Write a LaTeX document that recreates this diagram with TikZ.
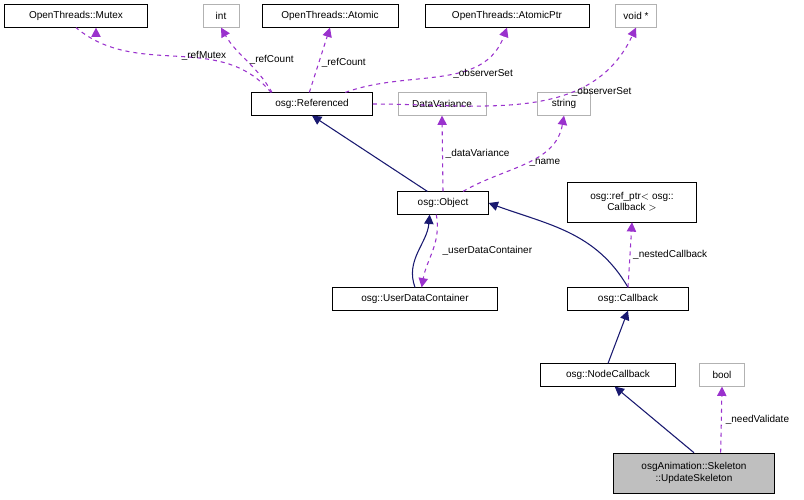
\documentclass[tikz,border=0pt]{standalone}
\usepackage{fontspec}
\setmainfont{Liberation Sans}
\usetikzlibrary{arrows.meta}
\definecolor{edgeblue}{HTML}{191970}
\definecolor{edgepurple}{HTML}{9A32CD}
\tikzset{
    cls/.style={draw=black, fill=white, inner sep=2pt, minimum height=17pt, font=\fontsize{7.5}{8.5}\selectfont, align=center},
    ext/.style={cls, draw=black!30},
    here/.style={cls, fill=black!25},
    inherit/.style={draw=edgeblue, thick, -{Triangle[length=7pt,width=7pt]}},
    uses/.style={draw=edgepurple, thick, dashed, -{Triangle[length=7pt,width=7pt]}},
    lbl/.style={font=\fontsize{7.5}{8.5}\selectfont, inner sep=1pt}
}
\begin{document}
\begin{tikzpicture}[x=0.75pt, y=-0.75pt]
    \useasboundingbox (0,0) rectangle (804,500);

    \node[cls, minimum width=107pt] (mutex) at (76,16) {OpenThreads::Mutex};
    \node[ext, minimum width=27pt] (int) at (221,16) {int};
    \node[cls, minimum width=102pt] (atomic) at (330,16) {OpenThreads::Atomic};
    \node[cls, minimum width=123pt] (atomicptr) at (507,16) {OpenThreads::AtomicPtr};
    \node[ext, minimum width=31pt] (voidp) at (636,16) {void *};

    \node[cls, minimum width=91pt] (referenced) at (312,104) {osg::Referenced};
    \node[ext, minimum width=66pt] (datavar) at (442,104) {DataVariance};
    \node[ext, minimum width=40pt] (string) at (564,104) {string};

    \node[cls, minimum width=68pt] (object) at (443,203) {osg::Object};
    \node[cls, minimum width=97pt, minimum height=30pt] (refptr) at (632,202) {osg::ref\_ptr$<$ osg::\\Callback $>$};

    \node[cls, minimum width=124pt] (udc) at (415,299) {osg::UserDataContainer};
    \node[cls, minimum width=91pt] (callback) at (628,299) {osg::Callback};

    \node[cls, minimum width=101pt] (nodecb) at (608,375) {osg::NodeCallback};
    \node[ext, minimum width=34pt] (bool) at (722,375) {bool};

    \node[here, minimum width=121pt, minimum height=30pt] (skeleton) at (694,473) {osgAnimation::Skeleton\\::UpdateSkeleton};

    % members of osg::Referenced
    \draw[uses] (referenced.north west) ++(20,0) to[out=130,in=-40] node[lbl, pos=0.5, right=2pt] {\_refMutex} (mutex.south) ++(20,0);
    \draw[uses] ([xshift=-30]referenced.north) to[out=120,in=-60] node[lbl, pos=0.5, right=1pt] {\_refCount} (int.south);
    \draw[uses] ([xshift=-2]referenced.north) -- node[lbl, pos=0.45, right=1pt] {\_refCount} (atomic.south);
    \draw[uses] ([xshift=25]referenced.north) to[out=20,in=-110] node[lbl, pos=0.55, right=1pt] {\_observerSet} (atomicptr.south);
    \draw[uses] (referenced.east) to[out=0,in=-115] node[lbl, pos=0.65, right=2pt] {\_observerSet} (voidp.south);

    % inheritance
    \draw[inherit] (object.north west) ++(30,0) -- (referenced.south);
    \draw[inherit] (udc.north) to[out=110,in=-95] ([xshift=-10]object.south);
    \draw[inherit] (callback.north) to[out=120,in=-20] (object.east);
    \draw[inherit] (nodecb.north) -- (callback.south);
    \draw[inherit] (skeleton.north) -- ([xshift=5]nodecb.south);

    % members of osg::Object
    \draw[uses] (object.north) -- node[lbl, pos=0.5, right=1pt] {\_dataVariance} (datavar.south);
    \draw[uses] ([xshift=15]object.north) to[out=30,in=-100] node[lbl, pos=0.5, right=1pt] {\_name} (string.south);
    \draw[uses] ([xshift=-5]object.south) to[out=-80,in=80] node[lbl, pos=0.5, right=6pt] {\_userDataContainer} ([xshift=5]udc.north);

    % other members
    \draw[uses] (callback.north) -- node[lbl, pos=0.5, right=1pt] {\_nestedCallback} (refptr.south);
    \draw[uses] ([xshift=20]skeleton.north) -- node[lbl, pos=0.5, right=2pt] {\_needValidate} (bool.south);
\end{tikzpicture}
\end{document}
